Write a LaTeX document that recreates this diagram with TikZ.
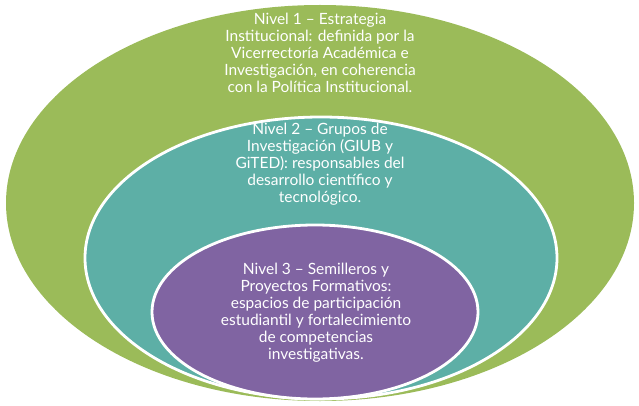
\documentclass[tikz,border=0pt]{standalone}
\usepackage{fontspec}
\setmainfont{Lato}
\usetikzlibrary{shapes.geometric}
\definecolor{lvgreen}{HTML}{9BBB59}
\definecolor{lvteal}{HTML}{5DAFA6}
\definecolor{lvpurple}{HTML}{8064A2}
\tikzset{
  lvlabel/.style={text=white, align=center, font=\fontsize{15.5}{17}\selectfont, inner sep=0pt},
  ring/.style={draw=white, line width=2.8pt}
}
\begin{document}
\begin{tikzpicture}[x=1pt,y=-1pt]
\useasboundingbox (0,0) rectangle (639,406);
\fill[lvgreen] (320,203) ellipse [x radius=314, y radius=198];
\filldraw[lvteal, ring] (321,258) ellipse [x radius=236, y radius=141];
\filldraw[lvpurple, ring] (315,312) ellipse [x radius=163, y radius=87];
\node[lvlabel] (n1) at (320,53) {Nivel 1 – Estrategia\\Institucional: definida por la\\Vicerrectoría Académica e\\Investigación, en coherencia\\con la Política Institucional.};
\node[lvlabel] (n2) at (320,164) {Nivel 2 – Grupos de\\Investigación (GIUB y\\GiTED): responsables del\\desarrollo científico y\\tecnológico.};
\node[lvlabel] (n3) at (316,313) {Nivel 3 – Semilleros y\\Proyectos Formativos:\\espacios de participación\\estudiantil y fortalecimiento\\de competencias\\investigativas.};
\end{tikzpicture}
\end{document}
